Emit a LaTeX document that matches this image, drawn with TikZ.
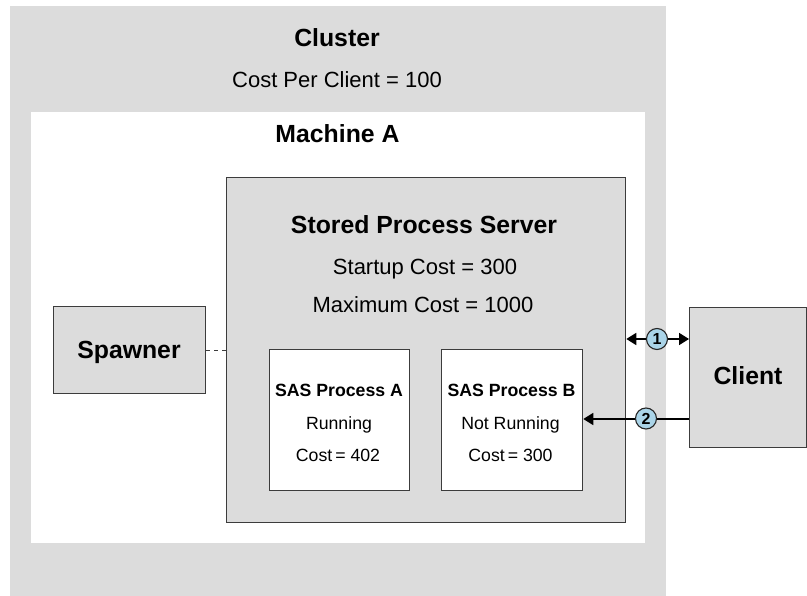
\documentclass[tikz,border=0pt]{standalone}
\usepackage{fontspec}
\setmainfont{Liberation Sans}
\usetikzlibrary{arrows.meta}
\definecolor{panel}{RGB}{220,220,220}
\definecolor{edge}{RGB}{60,60,60}
\definecolor{badge}{RGB}{170,212,232}
\newcommand{\bigb}{\fontsize{24.8}{28}\selectfont\bfseries}
\newcommand{\midr}{\fontsize{22}{25}\selectfont}
\newcommand{\smb}{\fontsize{17.7}{21}\selectfont\bfseries}
\newcommand{\smr}{\fontsize{17.7}{21}\selectfont}
\tikzset{
  region/.style={draw=none, inner sep=0pt, anchor=north west},
  box/.style={draw=edge, line width=1.3pt, fill=panel, inner sep=0pt, anchor=north west},
  whitebox/.style={draw=edge, line width=1.3pt, fill=white, inner sep=0pt, anchor=north west},
  txt/.style={inner sep=0pt, anchor=base},
  conn/.style={line width=1.8pt, black},
  tipA/.style={-{Triangle[length=10pt,width=12pt]}},
  tipB/.style={{Triangle[length=10pt,width=12pt]}-{Triangle[length=10pt,width=12pt]}},
  dashlink/.style={line width=1pt, edge, dash pattern=on 4pt off 4pt},
  badgecirc/.style={circle, draw=black!85, line width=1.1pt, fill=badge, inner sep=0pt, minimum size=21pt, font=\fontsize{16}{18}\selectfont\bfseries}
}
\begin{document}
\begin{tikzpicture}[x=1pt,y=-1pt]
\useasboundingbox (0,0) rectangle (807,596);
% cluster and machine regions
\node[region, fill=panel, minimum width=656pt, minimum height=590pt] (cluster) at (10,6) {};
\node[region, fill=white, minimum width=614pt, minimum height=431pt] (machine) at (31,112) {};
\node[txt] (tcluster) at (337,46.5) {\bigb Cluster};
\node[txt] (tcost) at (337,88) {\midr Cost Per Client = 100};
\node[txt] (tmachine) at (337.5,143) {\bigb Machine A};
% stored process server
\node[box, minimum width=399pt, minimum height=345pt] (sps) at (226,177) {};
\node[txt] (tsps) at (424,234) {\bigb Stored Process Server};
\node[txt] (tstart) at (425,275) {\midr Startup Cost = 300};
\node[txt] (tmax) at (423,313) {\midr Maximum Cost = 1000};
% SAS processes
\node[whitebox, minimum width=140pt, minimum height=141pt] (sasa) at (269,349) {};
\node[txt] (ta1) at (339,396.5) {\smb SAS Process A};
\node[txt] (ta2) at (339,429.5) {\smr Running};
\node[txt] (ta3) at (338,461.5) {\smr Cost\,= 402};
\node[whitebox, minimum width=141pt, minimum height=141pt] (sasb) at (441,349) {};
\node[txt] (tb1) at (511.5,396.5) {\smb SAS Process B};
\node[txt] (tb2) at (510.5,429.5) {\smr Not Running};
\node[txt] (tb3) at (510.5,461.5) {\smr Cost\,= 300};
% spawner
\node[box, minimum width=152pt, minimum height=87pt] (spawner) at (53,306) {};
\node[txt] (tspawner) at (129,359) {\bigb Spawner};
\draw[dashlink] (spawner.east) -- (sps.west |- spawner.east);
% client
\node[box, minimum width=117pt, minimum height=140pt] (client) at (689,307) {};
\node[txt] (tclient) at (748,385) {\bigb Client};
% connectors
\coordinate (r1) at (689,339);
\coordinate (r2) at (689,419);
\draw[conn, tipB] (sps.east |- r1) -- (client.west |- r1);
\draw[conn, tipA] (client.west |- r2) -- (sasb.east |- r2);
\node[badgecirc] (b1) at (657,339) {1};
\node[badgecirc] (b2) at (646,418.5) {2};
\end{tikzpicture}
\end{document}
